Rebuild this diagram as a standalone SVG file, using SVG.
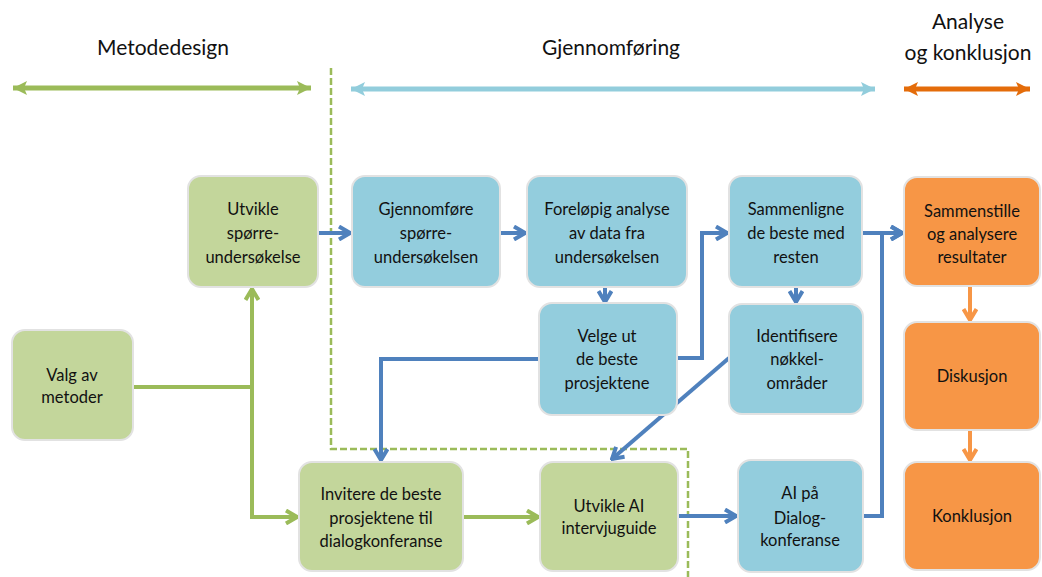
<svg xmlns="http://www.w3.org/2000/svg" width="1042" height="577" viewBox="0 0 1042 577">
<style>
.t{font-family:Lato,"Liberation Sans",sans-serif;font-size:16.5px;fill:#111;text-anchor:middle}
.h{font-family:Lato,"Liberation Sans",sans-serif;font-size:21px;fill:#111;text-anchor:middle}
.g{fill:#C3D69B;stroke:#E2E2E2;stroke-width:2}
.b{fill:#93CDDD;stroke:#E2E2E2;stroke-width:2}
.o{fill:#F79646;stroke:#E2E2E2;stroke-width:2}
.cb{fill:none;stroke:#4F81BD;stroke-width:4}
.cg{fill:none;stroke:#9BBB59;stroke-width:4}
.co{fill:none;stroke:#F79646;stroke-width:4}
</style>
<defs>
<marker id="ab" viewBox="0 0 16 16" refX="14" refY="8" markerWidth="16" markerHeight="16" markerUnits="userSpaceOnUse" orient="auto"><path d="M3,1.5 L14,8 L3,14.5" fill="none" stroke="#4F81BD" stroke-width="4"/></marker>
<marker id="ag" viewBox="0 0 16 16" refX="14" refY="8" markerWidth="16" markerHeight="16" markerUnits="userSpaceOnUse" orient="auto"><path d="M3,1.5 L14,8 L3,14.5" fill="none" stroke="#9BBB59" stroke-width="4"/></marker>
<marker id="ao" viewBox="0 0 16 16" refX="14" refY="8" markerWidth="16" markerHeight="16" markerUnits="userSpaceOnUse" orient="auto"><path d="M3,1.5 L14,8 L3,14.5" fill="none" stroke="#F79646" stroke-width="4"/></marker>
<marker id="hg" viewBox="0 0 16 16" refX="15" refY="8" markerWidth="16" markerHeight="16" markerUnits="userSpaceOnUse" orient="auto-start-reverse"><path d="M1,1 L15,8 L1,15 L4,8 z" fill="#9BBB59"/></marker>
<marker id="hb" viewBox="0 0 16 16" refX="15" refY="8" markerWidth="16" markerHeight="16" markerUnits="userSpaceOnUse" orient="auto-start-reverse"><path d="M1,1 L15,8 L1,15 L4,8 z" fill="#92CDDC"/></marker>
<marker id="ho" viewBox="0 0 16 16" refX="15" refY="8" markerWidth="16" markerHeight="16" markerUnits="userSpaceOnUse" orient="auto-start-reverse"><path d="M1,1 L15,8 L1,15 L4,8 z" fill="#E46C0A"/></marker>
</defs>

<g id="headers">
<text class="h" x="163" y="55">Metodedesign</text>
<line x1="13" y1="88" x2="311" y2="88" stroke="#9BBB59" stroke-width="5" marker-start="url(#hg)" marker-end="url(#hg)"/>
<text class="h" x="611" y="55">Gjennomføring</text>
<line x1="351" y1="89" x2="875" y2="89" stroke="#92CDDC" stroke-width="5" marker-start="url(#hb)" marker-end="url(#hb)"/>
<text class="h" x="968" y="29">Analyse</text>
<text class="h" x="968" y="60">og konklusjon</text>
<line x1="904" y1="89" x2="1030" y2="89" stroke="#E46C0A" stroke-width="5" marker-start="url(#ho)" marker-end="url(#ho)"/>
</g>

<path id="divider" d="M331,68 V449 H688 V577" fill="none" stroke="#9BBB59" stroke-width="2.5" stroke-dasharray="7,3"/>

<g id="connectors">
<path class="cb" d="M318,233 H350" marker-end="url(#ab)"/>
<path class="cb" d="M500,233 H525" marker-end="url(#ab)"/>
<path class="cb" d="M605,287 V302" marker-end="url(#ab)"/>
<path class="cb" d="M677,358 H702 V233 H727" marker-end="url(#ab)"/>
<path class="cb" d="M796,287 V302" marker-end="url(#ab)"/>
<path class="cb" d="M862,233 H902" marker-end="url(#ab)"/>
<path class="cb" d="M863,516 H882 V233 H902" marker-end="url(#ab)"/>
<path class="cb" d="M539,359 H381 V460" marker-end="url(#ab)"/>
<path class="cb" d="M729,358 L612,459" marker-end="url(#ab)"/>
<path class="cb" d="M678,516 H736" marker-end="url(#ab)"/>
<path class="cg" d="M133,387 H252 V289" marker-end="url(#ag)"/>
<path class="cg" d="M252,387 V517 H297" marker-end="url(#ag)"/>
<path class="cg" d="M463,517 H538" marker-end="url(#ag)"/>
<path class="co" d="M970,286 V320" marker-end="url(#ao)"/>
<path class="co" d="M970,430 V460" marker-end="url(#ao)"/>
</g>

<g id="valg"><rect class="g" x="12" y="330" width="121" height="110" rx="13"/>
<text class="t" x="72" y="381">Valg av</text><text class="t" x="72" y="403">metoder</text></g>

<g id="utvikle-sporre"><rect class="g" x="188" y="176" width="130" height="111" rx="13"/>
<text class="t" x="253" y="215">Utvikle</text><text class="t" x="253" y="239">spørre-</text><text class="t" x="253" y="263">undersøkelse</text></g>

<g id="gjennomfore"><rect class="b" x="352" y="176" width="148" height="111" rx="13"/>
<text class="t" x="426" y="215">Gjennomføre</text><text class="t" x="426" y="239">spørre-</text><text class="t" x="426" y="263">undersøkelsen</text></g>

<g id="forelopig"><rect class="b" x="527" y="176" width="160" height="111" rx="13"/>
<text class="t" x="607" y="215">Foreløpig analyse</text><text class="t" x="607" y="239">av data fra</text><text class="t" x="607" y="263">undersøkelsen</text></g>

<g id="sammenligne"><rect class="b" x="729" y="176" width="133" height="111" rx="13"/>
<text class="t" x="796" y="215">Sammenligne</text><text class="t" x="796" y="239">de beste med</text><text class="t" x="796" y="263">resten</text></g>

<g id="sammenstille"><rect class="o" x="904" y="177" width="136" height="109" rx="13"/>
<text class="t" x="972" y="217">Sammenstille</text><text class="t" x="972" y="240">og analysere</text><text class="t" x="972" y="263">resultater</text></g>

<g id="diskusjon"><rect class="o" x="904" y="322" width="136" height="108" rx="13"/>
<text class="t" x="972" y="382">Diskusjon</text></g>

<g id="konklusjon"><rect class="o" x="904" y="462" width="136" height="108" rx="13"/>
<text class="t" x="972" y="522">Konklusjon</text></g>

<g id="velge"><rect class="b" x="539" y="303" width="138" height="112" rx="13"/>
<text class="t" x="607" y="342">Velge ut</text><text class="t" x="607" y="365">de beste</text><text class="t" x="607" y="389">prosjektene</text></g>

<g id="identifisere"><rect class="b" x="729" y="304" width="134" height="110" rx="13"/>
<text class="t" x="797" y="342">Identifisere</text><text class="t" x="797" y="365">nøkkel-</text><text class="t" x="797" y="389">områder</text></g>

<g id="invitere"><rect class="g" x="299" y="462" width="164" height="109" rx="13"/>
<text class="t" x="381" y="500">Invitere de beste</text><text class="t" x="381" y="524">prosjektene til</text><text class="t" x="381" y="547">dialogkonferanse</text></g>

<g id="utvikle-ai"><rect class="g" x="540" y="462" width="138" height="109" rx="13"/>
<text class="t" x="609" y="512">Utvikle AI</text><text class="t" x="609" y="534">intervjuguide</text></g>

<g id="ai-dialog"><rect class="b" x="738" y="460" width="125" height="112" rx="13"/>
<text class="t" x="800" y="499">AI på</text><text class="t" x="800" y="524">Dialog-</text><text class="t" x="800" y="546">konferanse</text></g>
</svg>
